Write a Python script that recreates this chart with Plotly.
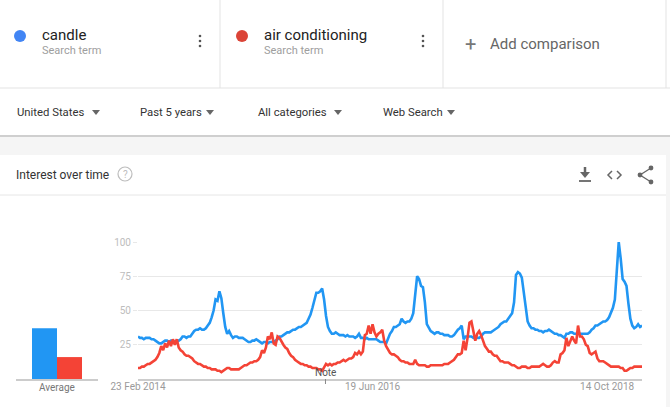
import plotly.graph_objects as go
import pandas as pd

# ---------------- data ----------------
start_date = "2014-02-23"
n_weeks = 261

candle = [
    31, 30, 30, 29, 30, 30, 30, 29, 29, 28,
    27, 26, 26, 27, 28, 28, 27, 28, 28, 27,
    27, 28, 29, 31, 31, 30, 31, 31, 33, 35,
    36, 36, 37, 36, 36, 37, 39, 41, 45, 50,
    58, 57, 64, 59, 48, 38, 33, 35, 32, 30,
    31, 31, 30, 30, 30, 29, 28, 27, 27, 28,
    28, 29, 28, 27, 26, 27, 27, 26, 27, 27,
    27, 28, 29, 31, 31, 32, 33, 34, 34, 35,
    36, 36, 37, 38, 38, 39, 40, 41, 44, 47,
    52, 58, 63, 63, 64, 66, 58, 46, 38, 35,
    33, 33, 34, 33, 32, 32, 32, 31, 32, 31,
    31, 31, 30, 31, 33, 30, 30, 29, 30, 29,
    29, 29, 29, 29, 28, 27, 27, 27, 26, 30,
    33, 35, 38, 38, 39, 40, 44, 42, 41, 42,
    42, 44, 48, 63, 75, 73, 68, 67, 56, 40,
    37, 35, 34, 33, 34, 34, 33, 33, 32, 32,
    32, 31, 31, 32, 34, 36, 37, 39, 29, 31,
    31, 31, 31, 30, 31, 30, 30, 31, 33, 34,
    34, 34, 34, 35, 36, 37, 38, 40, 41, 42,
    42, 44, 46, 48, 56, 76, 78, 77, 74, 62,
    52, 42, 39, 37, 37, 36, 36, 35, 35, 34,
    35, 35, 36, 35, 34, 33, 33, 32, 32, 31,
    30, 33, 33, 34, 34, 33, 33, 34, 33, 33,
    33, 33, 33, 34, 36, 37, 39, 39, 40, 41,
    42, 42, 43, 45, 48, 52, 58, 80, 100, 88,
    73, 71, 68, 55, 44, 39, 37, 38, 40, 38,
    39,
]

air_conditioning = [
    8, 8, 9, 9, 10, 11, 11, 12, 13, 14,
    16, 19, 24, 21, 26, 23, 28, 24, 29, 25,
    29, 23, 21, 20, 18, 17, 17, 16, 15, 13,
    12, 11, 11, 10, 9, 9, 8, 8, 7, 7,
    7, 6, 6, 5, 6, 7, 8, 8, 7, 7,
    7, 7, 7, 8, 9, 10, 10, 11, 12, 12,
    13, 13, 14, 16, 21, 19, 23, 31, 29, 34,
    26, 25, 31, 30, 27, 25, 23, 22, 19, 17,
    16, 14, 13, 12, 11, 11, 10, 10, 9, 9,
    8, 8, 8, 7, 7, 6, 9, 11, 10, 11,
    10, 11, 11, 12, 12, 13, 14, 13, 14, 15,
    15, 16, 19, 18, 20, 18, 20, 32, 33, 39,
    33, 40, 34, 31, 33, 34, 36, 28, 24, 21,
    19, 18, 18, 17, 16, 14, 13, 13, 12, 12,
    11, 11, 11, 14, 11, 10, 10, 10, 10, 9,
    9, 10, 10, 10, 10, 10, 10, 10, 11, 11,
    11, 12, 13, 14, 16, 18, 18, 19, 28, 21,
    30, 41, 42, 35, 28, 33, 35, 32, 28, 24,
    22, 20, 20, 18, 17, 17, 15, 13, 13, 12,
    12, 12, 11, 10, 10, 9, 8, 8, 9, 9,
    9, 8, 8, 9, 9, 9, 9, 9, 10, 11,
    10, 9, 9, 10, 12, 13, 12, 12, 18, 19,
    21, 30, 24, 28, 31, 28, 26, 39, 31, 31,
    29, 25, 24, 19, 18, 19, 20, 15, 13, 13,
    13, 12, 11, 10, 9, 9, 9, 9, 9, 8,
    8, 6, 6, 7, 8, 8, 9, 9, 9, 9,
    9,
]

average_labels = ["candle", "air conditioning"]
average_values = [37, 16]

y_ticks = [25, 50, 75, 100]
x_tick_dates = ["2014-02-23", "2016-06-19", "2018-10-14"]
x_tick_text = ["23 Feb 2014", "19 Jun 2016", "14 Oct 2018"]
note_date = "2016-01-01"

assert len(candle) == n_weeks and len(air_conditioning) == n_weeks
dates = pd.date_range(start_date, periods=n_weeks, freq="7D")

# ---------------- styling helpers ----------------
W, H = 670, 407
BLUE = "#2196f3"
RED = "#f44336"
FONT = "Roboto"


def px(x):
    return x / W


def py(y):
    return 1 - y / H


shapes = []
annotations = []


def line(x0, y0, x1, y1, color="#e0e0e0", width=1, layer="above"):
    shapes.append(dict(type="line", xref="paper", yref="paper",
                       x0=px(x0), y0=py(y0), x1=px(x1), y1=py(y1),
                       line=dict(color=color, width=width), layer=layer))


def rect(x0, y0, x1, y1, fill, layer="below"):
    shapes.append(dict(type="rect", xref="paper", yref="paper",
                       x0=px(x0), y0=py(y0), x1=px(x1), y1=py(y1),
                       fillcolor=fill, line=dict(width=0), layer=layer))


def circle(cx, cy, r, fill=None, outline=None, width=1):
    shapes.append(dict(type="circle", xref="paper", yref="paper",
                       x0=px(cx - r), y0=py(cy + r), x1=px(cx + r), y1=py(cy - r),
                       fillcolor=fill if fill else "rgba(0,0,0,0)",
                       line=dict(color=outline if outline else "rgba(0,0,0,0)", width=width)))


def path(points, fill=None, color=None, width=1, closed=True):
    d = "M " + " L ".join(f"{px(x):.5f},{py(y):.5f}" for x, y in points)
    if closed:
        d += " Z"
    shapes.append(dict(type="path", xref="paper", yref="paper", path=d,
                       fillcolor=fill if fill else "rgba(0,0,0,0)",
                       line=dict(color=color if color else "rgba(0,0,0,0)", width=width)))


def text(x, y, s, size=12, color="#333", xanchor="left", yanchor="middle"):
    annotations.append(dict(xref="paper", yref="paper", x=px(x), y=py(y), text=s,
                            showarrow=False, xanchor=xanchor, yanchor=yanchor,
                            borderpad=0, borderwidth=0,
                            font=dict(family=FONT, size=size, color=color)))


# ---------------- page chrome ----------------
rect(0, 137, W, 155, "#f5f5f5")
rect(666, 155, W, H, "#f5f5f5")
line(0, 136, W, 136, color="#cfcfcf", width=2)
line(0, 88, W, 88, color="#e3e3e3")
for vx in (220, 443, 666):
    line(vx, 0, vx, 88, color="#e3e3e3")
line(0, 195, 666, 195, color="#e6e6e6")

# search terms
circle(20, 36, 6, fill="#4285f4")
text(42, 35, "candle", size=15, color="#222")
text(42, 51, "Search term", size=11, color="#9e9e9e")
circle(242, 36, 6, fill="#db4437")
text(264, 35, "air conditioning", size=15, color="#222")
text(264, 51, "Search term", size=11, color="#9e9e9e")
for mx in (200, 423):
    for my in (36, 41, 46):
        circle(mx, my, 1.3, fill="#555")
text(470, 44, "+", size=20, color="#777", xanchor="center")
text(490, 44, "Add comparison", size=15, color="#666")

# filters
filters = [("United States", 17, 96), ("Past 5 years", 140, 210),
           ("All categories", 258, 338), ("Web Search", 383, 451)]
for label, tx, ax in filters:
    text(tx, 112, label, size=11.3, color="#333")
    path([(ax - 4, 110), (ax + 4, 110), (ax, 115)], fill="#666")

# card header
text(16, 175, "Interest over time", size=12, color="#333")
circle(125, 174, 7, outline="#bdbdbd", width=1.2)
text(125, 174, "?", size=10, color="#bdbdbd", xanchor="center")

# download icon
line(585, 167, 585, 174, color="#666", width=2.5)
path([(580, 172), (590, 172), (585, 178)], fill="#666")
line(579, 181, 591, 181, color="#666", width=1.8)
# code icon
path([(612, 171), (608, 175), (612, 179)], color="#666", width=1.5, closed=False)
path([(617, 171), (621, 175), (617, 179)], color="#666", width=1.5, closed=False)
# share icon
path([(651, 168), (640, 175), (651, 182)], color="#666", width=1.3, closed=False)
for cx, cy in ((651, 168), (640, 175), (651, 182)):
    circle(cx, cy, 2.4, fill="#666")

# ---------------- figure ----------------
fig = go.Figure()
fig.add_trace(go.Scatter(x=dates, y=candle, mode="lines", name="candle",
                         line=dict(color=BLUE, width=2.6), cliponaxis=False,
                         xaxis="x", yaxis="y"))
fig.add_trace(go.Scatter(x=dates, y=air_conditioning, mode="lines", name="air conditioning",
                         line=dict(color=RED, width=2.6), cliponaxis=False,
                         xaxis="x", yaxis="y"))
fig.add_trace(go.Bar(x=[0, 1], y=average_values, width=1, marker=dict(color=[BLUE, RED], line=dict(width=0)),
                     text=average_labels, textposition="none", hoverinfo="y",
                     xaxis="x2", yaxis="y2"))

# note marker
shapes.append(dict(type="line", xref="x", yref="paper", x0=note_date, x1=note_date,
                   y0=py(379), y1=py(384), line=dict(color="#888", width=1)))
annotations.append(dict(xref="x", yref="paper", x=note_date, y=py(372), text="Note",
                        showarrow=False, xanchor="center", yanchor="middle",
                        font=dict(family=FONT, size=10, color="#555")))
# average label
text(57, 387, "Average", size=10, color="#777", xanchor="center")

ydom = [py(379), py(242)]
fig.update_layout(
    template="none",
    width=W, height=H,
    autosize=False,
    margin=dict(l=0, r=0, t=0, b=0, pad=0, autoexpand=False),
    paper_bgcolor="white", plot_bgcolor="rgba(0,0,0,0)",
    showlegend=False,
    font=dict(family=FONT),
    xaxis=dict(domain=[px(138), px(642)], range=[dates[0], dates[-1]],
               tickvals=x_tick_dates, ticktext=x_tick_text,
               tickfont=dict(size=10, color="#9a9a9a"), ticklabelstandoff=-3,
               showgrid=False, zeroline=False, showline=True, automargin=False,
               linecolor="#cccccc", linewidth=2, ticks="", anchor="y"),
    yaxis=dict(domain=ydom, range=[0, 100], tickvals=y_ticks,
               tickfont=dict(size=10, color="#bdbdbd"), automargin=False,
               showgrid=True, gridcolor="#e8e8e8", gridwidth=1, zeroline=False, showline=False,
               ticks="outside", ticklen=4, tickcolor="#e8e8e8", anchor="x"),
    xaxis2=dict(domain=[px(16), px(98)], range=[-1.14, 2.14], visible=True, automargin=False,
                showticklabels=False, showgrid=False, zeroline=False,
                showline=True, linecolor="#cccccc", linewidth=2, ticks="", anchor="y2"),
    yaxis2=dict(domain=ydom, range=[0, 100], visible=False, anchor="x2", automargin=False),
    shapes=shapes,
    annotations=annotations,
)

fig.write_html("out.html", config={"displayModeBar": False},
               post_script="document.body.style.margin='0px';document.body.style.overflow='hidden';")
